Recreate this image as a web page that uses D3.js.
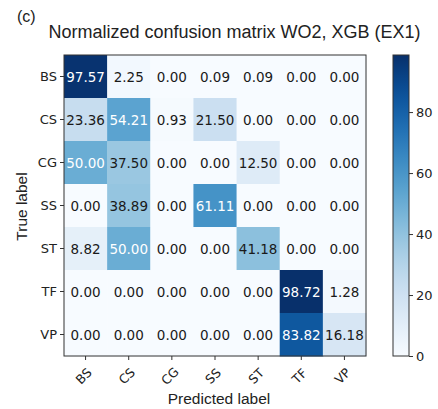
<!DOCTYPE html>
<html><head><meta charset="utf-8">
<script src="https://d3js.org/d3.v7.min.js"></script>
<style>body{margin:0;background:#fff;} text{font-family:"DejaVu Sans",sans-serif;}</style>
</head><body>
<svg id="c" width="438" height="409"></svg>
<script>
const labels = ["BS","CS","CG","SS","ST","TF","VP"];
const matrix = [
  [97.57, 2.25, 0.00, 0.09, 0.09, 0.00, 0.00],
  [23.36, 54.21, 0.93, 21.50, 0.00, 0.00, 0.00],
  [50.00, 37.50, 0.00, 0.00, 12.50, 0.00, 0.00],
  [0.00, 38.89, 0.00, 61.11, 0.00, 0.00, 0.00],
  [8.82, 50.00, 0.00, 0.00, 41.18, 0.00, 0.00],
  [0.00, 0.00, 0.00, 0.00, 0.00, 98.72, 1.28],
  [0.00, 0.00, 0.00, 0.00, 0.00, 83.82, 16.18]
];
const cbTicks = [0,20,40,60,80];
const title = "Normalized confusion matrix WO2, XGB (EX1)";

const svg = d3.select("#c");
const L=64, R=366, T=55, B=356;
const x = d3.scaleBand().domain(labels).range([L,R]);
const y = d3.scaleBand().domain(labels).range([T,B]);
const vmax = d3.max(matrix.flat());
const color = d3.scaleSequential(d3.interpolateBlues).domain([0, vmax]);
const cells = [];
matrix.forEach((row,i)=>row.forEach((v,j)=>cells.push({r:labels[i],c:labels[j],v})));
svg.append("g").selectAll("rect").data(cells).join("rect")
  .attr("x",d=>x(d.c)).attr("y",d=>y(d.r))
  .attr("width",x.bandwidth()+0.5).attr("height",y.bandwidth()+0.5)
  .attr("fill",d=>color(d.v));
svg.append("g").selectAll("text").data(cells).join("text")
  .attr("x",d=>x(d.c)+x.bandwidth()/2).attr("y",d=>y(d.r)+y.bandwidth()/2)
  .attr("text-anchor","middle").attr("dominant-baseline","central")
  .attr("font-size",13.5)
  .attr("fill",d=>d.v>vmax/2?"#fff":"#1a1a1a")
  .text(d=>d.v.toFixed(2));
svg.append("rect").attr("x",L).attr("y",T).attr("width",R-L).attr("height",B-T)
  .attr("fill","none").attr("stroke","#333").attr("stroke-width",1);

const xa = svg.append("g").attr("transform",`translate(0,${B})`)
  .call(d3.axisBottom(x).tickSize(4).tickSizeOuter(0));
xa.select(".domain").remove();
xa.selectAll("text").attr("font-size",12.5).attr("fill","#222")
  .attr("text-anchor","middle").attr("dominant-baseline","central")
  .attr("y",0).attr("dy",null)
  .attr("transform","translate(-2,20) rotate(-45)")
  .style("font-family","DejaVu Sans");
xa.selectAll("line").attr("stroke","#333");
const ya = svg.append("g").attr("transform",`translate(${L},0)`)
  .call(d3.axisLeft(y).tickSize(4).tickSizeOuter(0));
ya.select(".domain").remove();
ya.selectAll("text").attr("font-size",13).attr("fill","#222").style("font-family","DejaVu Sans");
ya.selectAll("line").attr("stroke","#333");

// colorbar
const cL=393, cW=16;
const cy = d3.scaleLinear().domain([0,vmax]).range([B,T]);
const defs = svg.append("defs");
const grad = defs.append("linearGradient").attr("id","g").attr("x1",0).attr("y1",1).attr("x2",0).attr("y2",0);
d3.range(0,1.0001,0.05).forEach(t=>grad.append("stop").attr("offset",t).attr("stop-color",color(t*vmax)));
svg.append("rect").attr("x",cL).attr("y",T).attr("width",cW).attr("height",B-T)
  .attr("fill","url(#g)").attr("stroke","#333").attr("stroke-width",1);
const ca = svg.append("g").attr("transform",`translate(${cL+cW},0)`)
  .call(d3.axisRight(cy).tickValues(cbTicks).tickSize(4).tickFormat(d3.format("d")));
ca.select(".domain").remove();
ca.selectAll("text").attr("font-size",13).attr("fill","#222").style("font-family","DejaVu Sans");
ca.selectAll("line").attr("stroke","#333");

const sans = "'Liberation Sans', Arial, sans-serif";
svg.append("text").attr("x",234.5).attr("y",38).attr("text-anchor","middle")
  .style("font-family",sans).attr("font-size",18).attr("fill","#222").text(title);
svg.append("text").attr("x",17).attr("y",22).style("font-family",sans)
  .attr("font-size",16).attr("fill","#222").text("(c)");
svg.append("text").attr("transform","translate(27,206.5) rotate(-90)").attr("text-anchor","middle")
  .style("font-family",sans).attr("font-size",15.5).attr("fill","#222").text("True label");
svg.append("text").attr("x",219).attr("y",404).attr("text-anchor","middle")
  .style("font-family",sans).attr("font-size",15.5).attr("fill","#222").text("Predicted label");
</script>
</body></html>
